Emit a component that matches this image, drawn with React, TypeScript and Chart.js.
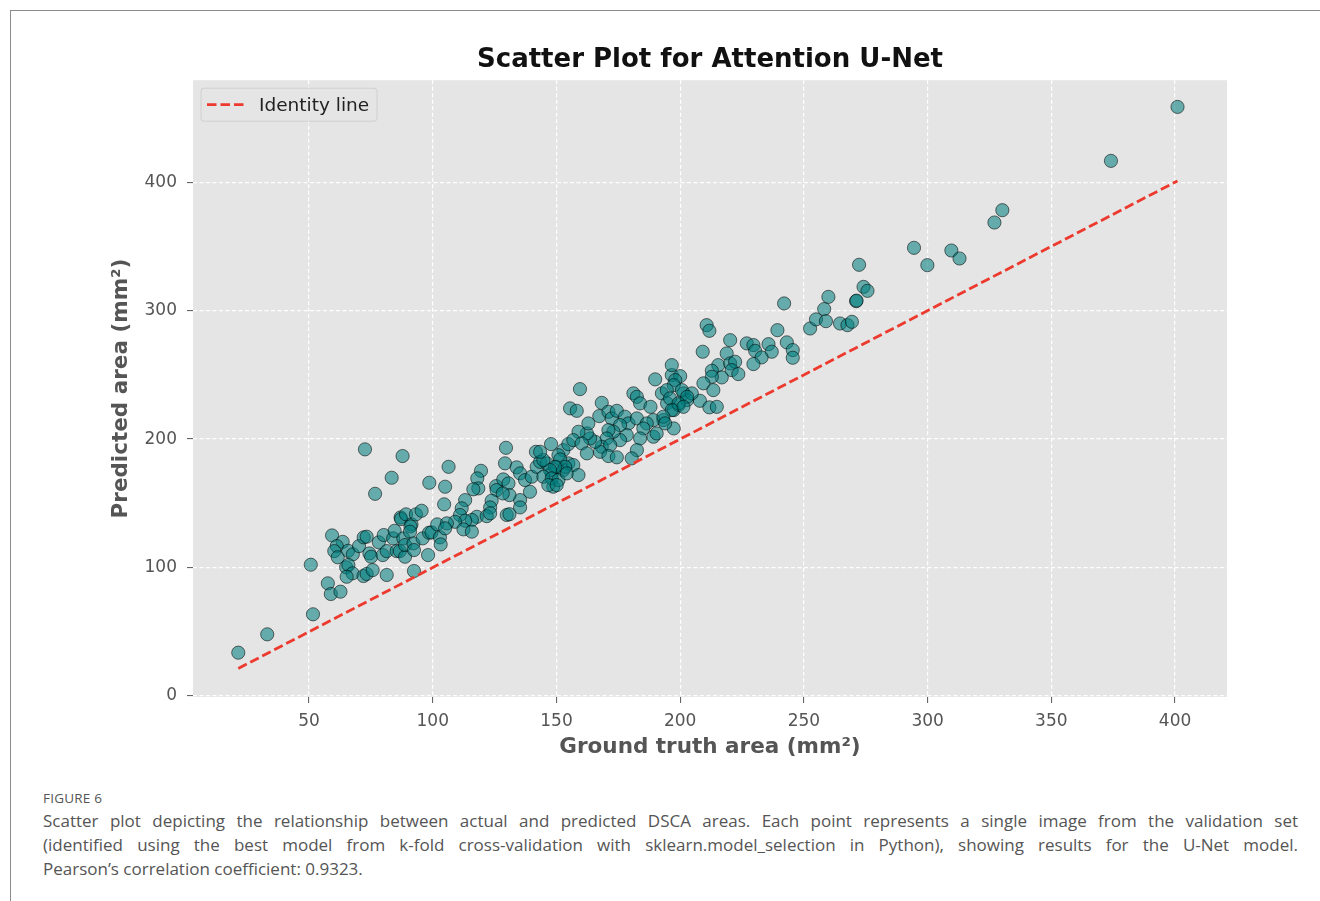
import React, { useEffect, useRef } from "react";
import { Chart, registerables } from "chart.js";

Chart.register(...registerables);

const groundTruth = [
  21.4, 33.1, 51.6, 50.7, 72.6, 87.8, 83.4, 76.7, 98.6, 57.6,
  58.8, 62.7, 59.3, 63.6, 61.2, 60.2, 61.6, 65.8, 67.7, 70.2,
  72.1, 73.3, 65.0, 65.9, 67.6, 65.2, 72.0, 73.3, 75.7, 74.4,
  75.1, 78.2, 80.2, 79.8, 81.4, 81.4, 84.0, 84.6, 85.4, 86.7,
  88.1, 88.8, 88.8, 87.0, 87.2, 89.2, 91.4, 91.0, 90.8, 92.2,
  92.4, 92.4, 93.2, 95.5, 95.9, 98.1, 98.5, 99.5, 101.8, 102.9,
  103.2, 104.6, 105.0, 106.4, 129.6, 141.7, 147.8, 152.8, 154.8, 119.5,
  129.2, 118.0, 118.4, 116.4, 125.6, 125.8, 128.5, 130.6, 133.9, 135.3,
  137.3, 140.0, 142.0, 143.4, 146.1, 148.1, 150.1, 152.8, 154.8, 148.7,
  139.3, 135.3, 135.3, 131.0, 128.3, 123.8, 123.2, 113.1, 111.7, 111.0,
  117.8, 121.8, 123.2, 115.8, 113.1, 109.0, 105.7, 105.0, 112.4, 115.8,
  129.9, 131.0,
  159.5, 189.9, 196.6, 200.0, 155.5, 158.2, 168.3, 167.3, 171.0, 172.3,
  174.4, 181.1, 182.5, 183.8, 177.7, 179.1, 182.5, 188.0, 192.6, 194.7,
  197.4, 199.4, 201.4, 202.8, 193.2, 189.2, 186.5, 185.1, 197.4, 189.2,
  190.5, 183.8, 178.4, 175.7, 175.7, 173.0, 171.0, 170.3, 168.3, 171.7,
  182.5, 180.4, 167.6, 171.0, 174.4, 165.6, 163.6, 162.3, 162.9, 158.9,
  156.8, 160.2, 162.3, 150.8, 151.5, 156.8, 153.5, 149.4, 147.4, 144.7,
  143.4, 144.7, 148.1, 150.8, 154.2, 158.9, 146.7, 150.1,
  210.7, 211.8, 239.3, 252.5, 220.2, 226.9, 229.6, 230.3, 235.7, 237.0,
  243.1, 245.5, 245.5, 232.9, 229.6, 209.1, 218.8, 196.6, 215.4, 212.8,
  220.2, 222.2, 220.8, 223.5, 216.8, 212.8, 209.4, 213.4, 208.0, 211.8,
  214.8, 198.0, 197.4, 200.7, 204.7, 202.8, 194.6, 195.9, 199.3, 201.3,
  196.6, 193.2, 193.9, 242.0,
  272.3, 274.1, 275.7, 271.1, 271.3, 259.9, 258.2, 254.9, 258.9, 264.6,
  267.6, 269.4,
  401.0, 374.1, 330.2, 327.0, 294.5, 299.9, 309.6, 312.9,
];

const predicted = [
  33.7, 48.0, 63.6, 102.2, 192.0, 186.8, 169.9, 157.4, 166.0, 87.7,
  79.4, 81.2, 125.0, 120.0, 116.7, 112.8, 108.0, 113.0, 110.3, 116.7,
  123.5, 124.0, 100.2, 102.0, 95.5, 92.8, 93.4, 95.0, 98.0, 111.0,
  108.4, 119.6, 125.3, 109.7, 112.8, 94.2, 122.7, 128.6, 112.8, 112.8,
  122.7, 108.4, 117.5, 139.0, 137.7, 141.4, 133.6, 132.0, 127.9, 118.8,
  113.6, 97.3, 141.4, 144.2, 122.7, 109.7, 127.1, 127.3, 133.6, 123.5,
  118.0, 149.2, 162.9, 178.4, 193.2, 190.1, 196.1, 191.4, 196.1, 175.3,
  181.1, 169.4, 161.6, 160.9, 163.4, 160.3, 168.6, 165.5, 178.0, 173.3,
  168.1, 170.7, 178.4, 182.3, 181.1, 173.3, 178.4, 175.9, 181.1, 162.9,
  159.0, 152.5, 146.8, 156.4, 157.7, 152.0, 146.8, 152.5, 146.1, 140.9,
  139.5, 140.0, 142.2, 137.0, 136.4, 135.6, 134.4, 130.5, 129.7, 127.9,
  140.9, 141.5,
  238.9, 246.5, 249.8, 249.0, 223.9, 222.0, 228.2, 217.9, 221.2, 216.1,
  222.0, 235.6, 232.9, 227.8, 217.4, 212.2, 216.1, 225.1, 235.6, 227.8,
  222.6, 226.5, 235.6, 230.4, 214.8, 214.8, 212.2, 208.3, 208.3, 201.8,
  204.4, 200.5, 203.1, 210.9, 199.2, 205.7, 207.0, 200.5, 194.0, 195.3,
  191.4, 185.0, 190.1, 186.8, 185.8, 197.9, 200.5, 204.4, 212.2, 205.7,
  199.2, 196.6, 188.9, 187.5, 184.2, 179.8, 178.4, 178.4, 175.9, 183.7,
  190.1, 170.7, 169.4, 168.1, 173.3, 172.0, 164.2, 164.2,
  288.7, 284.3, 284.8, 286.1, 277.0, 274.5, 273.2, 268.7, 273.9, 268.0,
  275.3, 269.3, 263.3, 263.6, 258.4, 268.0, 266.7, 257.6, 257.6, 253.2,
  258.9, 260.2, 253.7, 250.6, 248.0, 248.5, 243.4, 238.1, 229.8, 224.7,
  225.1, 245.9, 242.0, 238.1, 235.6, 232.9, 238.1, 231.7, 227.8, 225.1,
  222.6, 217.4, 212.2, 305.6,
  335.7, 318.5, 315.4, 307.4, 307.8, 310.7, 301.2, 293.2, 291.8, 290.0,
  288.7, 291.3,
  458.6, 416.6, 378.2, 368.6, 348.9, 335.4, 346.8, 340.6,
];

const identityLine = [21.4, 401.0];
const xTicks = [50, 100, 150, 200, 250, 300, 350, 400];
const yTicks = [0, 100, 200, 300, 400];

const TITLE = "Scatter Plot for Attention U-Net";
const X_LABEL = "Ground truth area (mm²)";
const Y_LABEL = "Predicted area (mm²)";
const LEGEND_LABEL = "Identity line";

const FONT = "'DejaVu Sans', sans-serif";

const plotBackground = {
  id: "plotBackground",
  beforeDraw(chart: any) {
    const { ctx, chartArea } = chart;
    ctx.save();
    ctx.fillStyle = "#e5e5e5";
    ctx.fillRect(chartArea.left, chartArea.top, chartArea.right - chartArea.left, chartArea.bottom - chartArea.top);
    ctx.restore();
  },
};

const legendBox = {
  id: "legendBox",
  afterDraw(chart: any) {
    const { ctx, chartArea } = chart;
    const ds = chart.data.datasets[0];
    const x = chartArea.left + 8;
    const y = chartArea.top + 8;
    const w = 176;
    const h = 33;
    const r = 3;
    ctx.save();
    ctx.beginPath();
    ctx.moveTo(x + r, y);
    ctx.lineTo(x + w - r, y);
    ctx.arcTo(x + w, y, x + w, y + r, r);
    ctx.lineTo(x + w, y + h - r);
    ctx.arcTo(x + w, y + h, x + w - r, y + h, r);
    ctx.lineTo(x + r, y + h);
    ctx.arcTo(x, y + h, x, y + h - r, r);
    ctx.lineTo(x, y + r);
    ctx.arcTo(x, y, x + r, y, r);
    ctx.closePath();
    ctx.fillStyle = "rgba(229,229,229,0.85)";
    ctx.fill();
    ctx.strokeStyle = "#d0d0d0";
    ctx.lineWidth = 1;
    ctx.stroke();

    ctx.beginPath();
    ctx.strokeStyle = ds.borderColor;
    ctx.lineWidth = ds.borderWidth;
    ctx.setLineDash(ds.borderDash);
    ctx.moveTo(x + 6, y + h / 2);
    ctx.lineTo(x + 44, y + h / 2);
    ctx.stroke();
    ctx.setLineDash([]);

    ctx.fillStyle = "#222";
    ctx.font = `18.5px ${FONT}`;
    ctx.textBaseline = "middle";
    ctx.textAlign = "left";
    ctx.fillText(ds.label, x + 58, y + h / 2 + 1);
    ctx.restore();
  },
};

export default function App() {
  const canvasRef = useRef<HTMLCanvasElement | null>(null);

  useEffect(() => {
    const canvas = canvasRef.current;
    if (!canvas) return;
    const points = groundTruth.map((gx, i) => ({ x: gx, y: predicted[i] }));
    const linePts = identityLine.map((v) => ({ x: v, y: v }));

    const chart = new Chart(canvas, {
      type: "scatter",
      data: {
        datasets: [
          {
            type: "line",
            label: LEGEND_LABEL,
            data: linePts,
            borderColor: "#ec3a2e",
            borderWidth: 2.8,
            borderDash: [9.5, 4],
            pointRadius: 0,
            fill: false,
            order: 0,
          } as any,
          {
            type: "scatter",
            label: "Predictions",
            data: points,
            backgroundColor: "rgba(0,124,124,0.56)",
            borderColor: "rgba(0,0,0,0.55)",
            borderWidth: 1,
            pointRadius: 6.6,
            pointHoverRadius: 6.6,
            order: 1,
          },
        ],
      },
      options: {
        responsive: false,
        animation: false,
        devicePixelRatio: 1,
        layout: { padding: { left: 100, right: 93, top: 0, bottom: 13 } },
        plugins: {
          legend: { display: false },
          tooltip: { enabled: false },
          title: {
            display: true,
            text: TITLE,
            fullSize: false,
            color: "#111",
            font: { family: FONT, size: 26, weight: "bold" },
            padding: { top: 45, bottom: 4 },
          },
        },
        scales: {
          x: {
            type: "linear",
            min: 3.1,
            max: 421.0,
            afterBuildTicks: (s: any) => {
              s.ticks = xTicks.map((v) => ({ value: v }));
            },
            afterFit: (s: any) => {
              s.height = 70;
            },
            grid: {
              color: "#ffffff",
              lineWidth: 1.2,
              drawTicks: true,
              tickLength: 6,
              tickColor: "#555",
              tickWidth: 1,
              tickBorderDash: [],
            },
            border: { display: false, dash: [4, 2.5] },
            ticks: {
              color: "#555",
              font: { family: FONT, size: 17 },
              padding: 8,
            },
            title: {
              display: true,
              text: X_LABEL,
              color: "#555",
              font: { family: FONT, size: 21.5, weight: "bold" },
              padding: { top: 0, bottom: 7 },
            },
          },
          y: {
            type: "linear",
            min: -0.8,
            max: 479.4,
            afterBuildTicks: (s: any) => {
              s.ticks = yTicks.map((v) => ({ value: v }));
            },
            afterFit: (s: any) => {
              s.width = 93;
            },
            grid: {
              color: "#ffffff",
              lineWidth: 1.2,
              drawTicks: true,
              tickLength: 6,
              tickColor: "#555",
              tickWidth: 1,
              tickBorderDash: [],
            },
            border: { display: false, dash: [4, 2.5] },
            ticks: {
              color: "#555",
              font: { family: FONT, size: 17 },
              padding: 10,
            },
            title: {
              display: true,
              text: Y_LABEL,
              color: "#555",
              font: { family: FONT, size: 21.5, weight: "bold" },
              padding: { top: 9, bottom: 0 },
            },
          },
        },
      } as any,
      plugins: [plotBackground, legendBox],
    });
    return () => chart.destroy();
  }, []);

  return (
    <div style={{ position: "absolute", left: 0, top: 0, width: 1320, height: 901, background: "#fff" }}>
      <div
        style={{
          position: "absolute",
          left: 10,
          top: 10,
          width: 1310,
          height: 891,
          borderTop: "1px solid #8c8c8c",
          borderLeft: "1px solid #8c8c8c",
          boxSizing: "border-box",
        }}
      />
      <canvas ref={canvasRef} width={1320} height={780} style={{ position: "absolute", left: 0, top: 0, width: 1320, height: 780 }} />
      <div
        style={{
          position: "absolute",
          left: 43,
          top: 790,
          width: 1255,
          fontFamily: "'Open Sans', sans-serif",
          color: "#555",
        }}
      >
        <div style={{ fontSize: 13.5, lineHeight: "16px", letterSpacing: 0.2 }}>FIGURE 6</div>
        <div style={{ fontSize: 17, lineHeight: "24px", marginTop: 3 }}>
          <div style={{ textAlign: "justify", textAlignLast: "justify", whiteSpace: "nowrap" }}>
            Scatter plot depicting the relationship between actual and predicted DSCA areas. Each point represents a single image from the validation set
          </div>
          <div style={{ textAlign: "justify", textAlignLast: "justify", whiteSpace: "nowrap" }}>
            (identified using the best model from k-fold cross-validation with sklearn.model_selection in Python), showing results for the U-Net model.
          </div>
          <div style={{ whiteSpace: "nowrap" }}>Pearson’s correlation coefficient: 0.9323.</div>
        </div>
      </div>
    </div>
  );
}
